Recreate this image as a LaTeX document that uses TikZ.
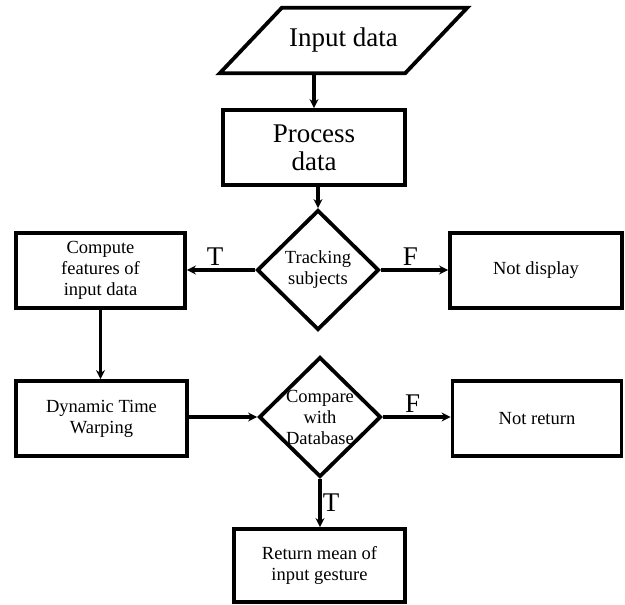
\documentclass[tikz,border=0pt]{standalone}
\usepackage{fontspec}
\setmainfont{Liberation Serif}
\usetikzlibrary{shapes.geometric,arrows.meta}
\begin{document}
\begin{tikzpicture}[x=1pt,y=-1pt,
  bigtext/.style={font=\fontsize{27}{28}\selectfont},
  smalltext/.style={font=\fontsize{18.5}{21}\selectfont},
  box/.style={draw, line width=3.8pt, inner sep=0pt, align=center},
  decision/.style={diamond, draw, line width=3.8pt, inner sep=0pt,
    minimum width=122pt, minimum height=120pt},
  flow/.style={line width=3.8pt, -{Stealth[length=9pt,width=9pt]}},
  lbl/.style={bigtext, inner sep=3pt}]
\useasboundingbox (0,0) rectangle (625,605);

% input parallelogram
\node[bigtext, minimum width=247pt, minimum height=65pt, inner sep=0pt] (in) at (343.5,40.5) {Input data};
\draw[line width=3.8pt] ([xshift=62pt]in.north west) -- (in.north east)
  -- ([xshift=-62pt]in.south east) -- (in.south west) -- cycle;

% process steps
\node[box, bigtext, minimum width=182pt, minimum height=75pt] (proc) at (314,147.5) {Process\\data};
\node[decision, label={[smalltext, align=center]center:Tracking\\subjects}] (d1) at (318,270) {};
\node[box, smalltext, minimum width=169pt, minimum height=75pt] (comp) at (100.5,270.5) {Compute\\features of\\input data};
\node[box, smalltext, minimum width=172pt, minimum height=75pt] (nodisp) at (536,270.5) {Not display};
\node[box, smalltext, minimum width=171pt, minimum height=75pt] (dtw) at (101.5,418.5) {Dynamic Time\\Warping};
\node[decision, label={[smalltext, align=center]center:Compare\\with\\Database}] (d2) at (320,417) {};
\node[box, smalltext, minimum width=169pt, minimum height=75pt] (noret) at (537,418.5) {Not return};
\node[box, smalltext, minimum width=171pt, minimum height=73pt] (ret) at (319.5,565.5) {Return mean of\\input gesture};

% connectors
\draw[flow] (in.south -| proc.north) -- (proc.north);
\draw[flow] (proc.south -| d1.north) -- (d1.north);
\draw[flow] (d1.west) -- node[lbl, above, xshift=-6pt] {T} (comp.east |- d1.west);
\draw[flow] (d1.east) -- node[lbl, above, xshift=-4pt] {F} (nodisp.west |- d1.east);
\draw[flow] (comp.south) -- (comp.south |- dtw.north);
\draw[flow] (dtw.east |- d2.west) -- (d2.west);
\draw[flow] (d2.east) -- node[lbl, above, xshift=-4pt] {F} (noret.west |- d2.east);
\draw[flow] (d2.south) -- node[lbl, right, inner sep=1pt] {T} (d2.south |- ret.north);
\end{tikzpicture}
\end{document}
